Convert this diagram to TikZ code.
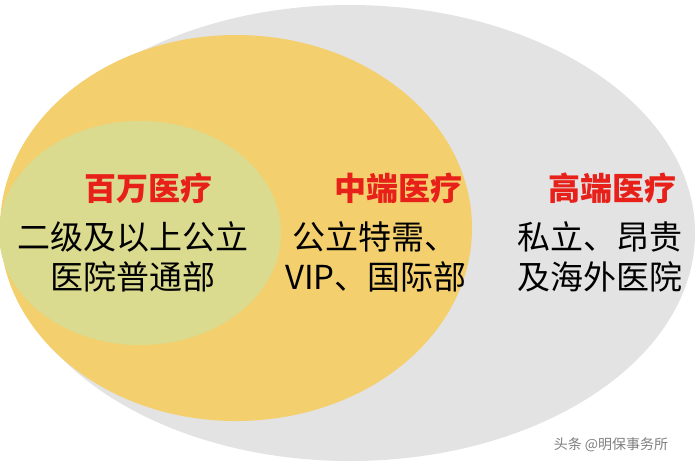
\documentclass[tikz,border=0pt]{standalone}
\usepackage{fontspec}
\setmainfont{Noto Sans CJK SC}
\definecolor{grayell}{HTML}{E3E3E3}
\definecolor{yell}{HTML}{F3CF6E}
\definecolor{greenell}{HTML}{DADB8E}
\definecolor{redt}{HTML}{E8201A}
\begin{document}
\begin{tikzpicture}[x=1pt,y=-1pt,
  tt/.style={font=\fontsize{33}{36}\selectfont,inner sep=0pt},
  hd/.style={tt,text=redt,font=\fontsize{32}{36}\selectfont\bfseries}]
\useasboundingbox (0,0) rectangle (700,467);
\fill[white] (0,0) rectangle (700,467);
\fill[grayell] (350,233) ellipse [x radius=345, y radius=228];
\fill[yell] (236,228) ellipse [x radius=236, y radius=193];
\fill[greenell] (140,233) ellipse [x radius=141, y radius=112];
\node[hd] (a1) at (148,188) {百万医疗};
\node[tt] (a2) at (133,237) {二级及以上公立};
\node[tt] (a3) at (133,277) {医院普通部};
\node[hd] (b1) at (398,188) {中端医疗};
\node[tt] (b2) at (375,237) {公立特需、};
\node[tt] (b3) at (376,277) {VIP、国际部};
\node[hd] (c1) at (612,188) {高端医疗};
\node[tt] (c2) at (600,237) {私立、昂贵};
\node[tt] (c3) at (600,277) {及海外医院};
\node[inner sep=0pt,text=gray,font=\fontsize{14}{16}\selectfont] (w) at (611,445) {头条 @明保事务所};
\end{tikzpicture}
\end{document}
